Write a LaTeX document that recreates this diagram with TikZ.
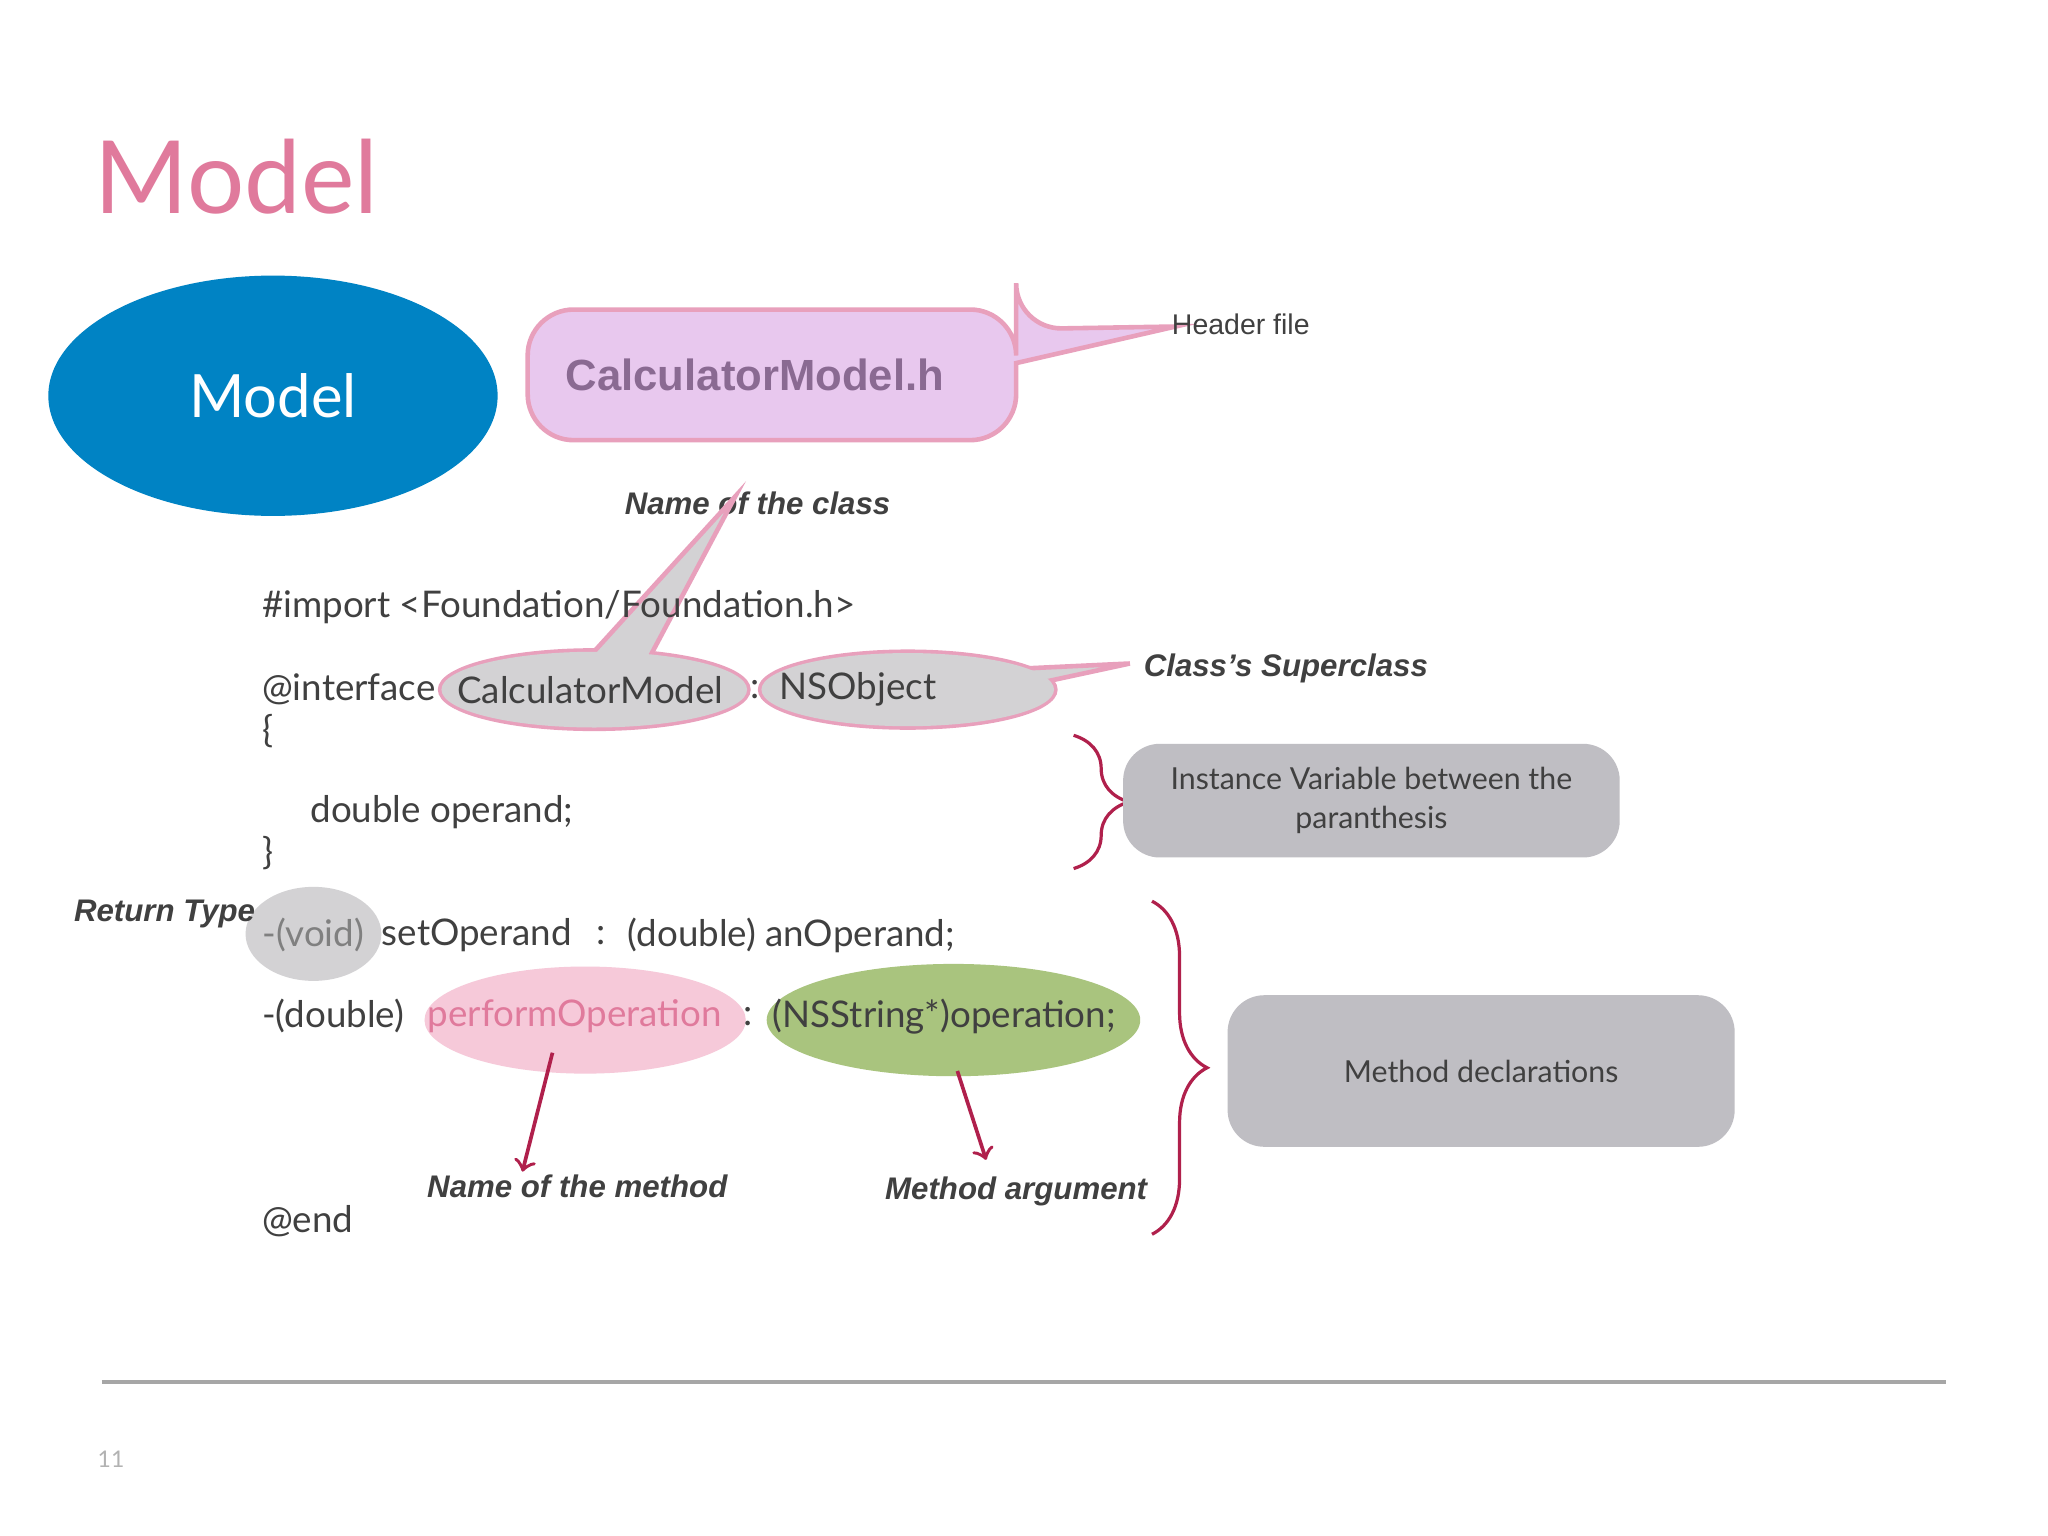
\documentclass[tikz,border=0pt]{standalone}
\usepackage{fontspec}
\setmainfont{Lato}
\newfontfamily\arial{Liberation Sans}
\usetikzlibrary{decorations.pathreplacing}
\definecolor{ttl}{HTML}{E07A9C}
\definecolor{mblue}{HTML}{0083C4}
\definecolor{lil}{HTML}{E8C8EE}
\definecolor{pbord}{HTML}{E8A0BC}
\definecolor{gfill}{HTML}{D3D2D4}
\definecolor{pinkf}{HTML}{F6C9D9}
\definecolor{greenf}{HTML}{A9C47E}
\definecolor{dred}{HTML}{B0204C}
\definecolor{boxg}{HTML}{BFBEC3}
\definecolor{txt}{HTML}{404040}
\definecolor{hcol}{HTML}{8A6A92}
\begin{document}
\begin{tikzpicture}[x=0.01cm,y=-0.01cm,
 code/.style={font=\fontsize{8}{10}\selectfont,text=txt,inner sep=0},
 lab/.style={font=\arial\bfseries\itshape\fontsize{6.8}{8}\selectfont,text=txt,inner sep=0},
 gbox/.style={fill=boxg,rounded corners=8,draw=none},
 arr/.style={draw=dred,line width=0.8pt,->},
 brc/.style={draw=dred,line width=0.7pt,decorate,decoration={brace,amplitude=12}}]
\useasboundingbox (0,0) rectangle (1568,1176);
\fill[white] (0,0) rectangle (1568,1176);
\node[text=ttl,font=\fontsize{22}{24}\selectfont,anchor=west,inner sep=0] (title) at (72,135) {Model};
\fill[mblue] (209,303) ellipse [x radius=172,y radius=92];
\node[text=white,font=\fontsize{13}{15}\selectfont] (mlab) at (209,303) {Model};
% header callout
\draw[fill=lil,draw=pbord,line width=1pt,rounded corners=10] (404,237) -- (778,237) -- (778,252) {[sharp corners] -- (900,250) -- (778,278)} -- (778,337) -- (404,337) -- cycle;
\node[font=\arial\bfseries\fontsize{9.5}{11}\selectfont,text=hcol] (hname) at (578,287) {CalculatorModel.h};
\node[font=\arial\fontsize{6.2}{8}\selectfont,text=txt] (hf) at (950,248) {Header file};
\node[lab] (noc) at (580,385) {Name of the class};
% class ellipse callouts
\draw[fill=gfill,draw=pbord,line width=1pt] (455,528) ellipse [x radius=118,y radius=30];
\draw[fill=gfill,draw=pbord,line width=1pt] (452,502) -- (563,380) -- (498,502);
\fill[gfill] (455,528) ellipse [x radius=117,y radius=29];
\draw[fill=gfill,draw=pbord,line width=1pt] (695,528) ellipse [x radius=113,y radius=29];
\draw[fill=gfill,draw=pbord,line width=1pt] (780,512) -- (865,508) -- (800,522);
\fill[gfill] (695,528) ellipse [x radius=112,y radius=28];
\node[lab,anchor=west] (sup) at (875,512) {Class’s Superclass};
% method ellipses
\fill[gfill] (240,715) ellipse [x radius=52,y radius=36];
\fill[pinkf] (448,781) ellipse [x radius=123,y radius=41];
\fill[greenf] (730,781) ellipse [x radius=143,y radius=43];
% code
\node[code,anchor=west] (l1) at (200,465) {\#import <Foundation/Foundation.h>};
\node[code,anchor=west] (l2a) at (200,528) {@interface};
\node[code] (l2b) at (452,528) {CalculatorModel};
\node[code] (l2c) at (578,528) {:};
\node[code] (l2d) at (657,528) {NSObject};
\node[code,anchor=west] (l3) at (200,560) {\{};
\node[code,anchor=west] (l4) at (237,622) {double operand;};
\node[code,anchor=west] (l5) at (200,653) {\}};
\node[code,text=gray] (l6a) at (240,716) {-(void)};
\node[code] (l6b) at (365,716) {setOperand};
\node[code] (l6c) at (460,716) {:};
\node[code,anchor=west] (l6d) at (480,716) {(double) anOperand;};
\node[code,anchor=west] (l7a) at (200,778) {-(double)};
\node[code,text=ttl] (l7b) at (440,778) {performOperation};
\node[code] (l7c) at (573,778) {:};
\node[code] (l7d) at (723,778) {(NSString*)operation;};
\node[code,anchor=west] (l8) at (200,935) {@end};
\node[lab] (rt) at (126,700) {Return Type};
\node[lab] (nom) at (442,908) {Name of the method};
\node[lab] (ma) at (778,912) {Method argument};
\coordinate (a1) at (423,806); \coordinate (a1e) at (400,897);
\coordinate (a2) at (733,820); \coordinate (a2e) at (755,888);
\draw[arr] (a1) -- (a1e);
\draw[arr] (a2) -- (a2e);
% braces
\draw[brc] (822,563) -- (822,665);
\draw[brc] (882,690) -- (882,945);
\node[gbox,minimum width=3.8cm,minimum height=0.87cm,align=center,font=\fontsize{6.6}{8.4}\selectfont,text=txt] (b1) at (1050,613) {Instance Variable between the\\paranthesis};
\node[gbox,minimum width=3.88cm,minimum height=1.16cm,font=\fontsize{6.6}{8}\selectfont,text=txt] (b2) at (1134,820) {Method declarations};
\draw[gray!70,line width=0.8pt] (78,1058) -- (1490,1058);
\node[font=\fontsize{5}{6}\selectfont,text=gray!60] (pg) at (85,1117) {11};
\end{tikzpicture}
\end{document}
